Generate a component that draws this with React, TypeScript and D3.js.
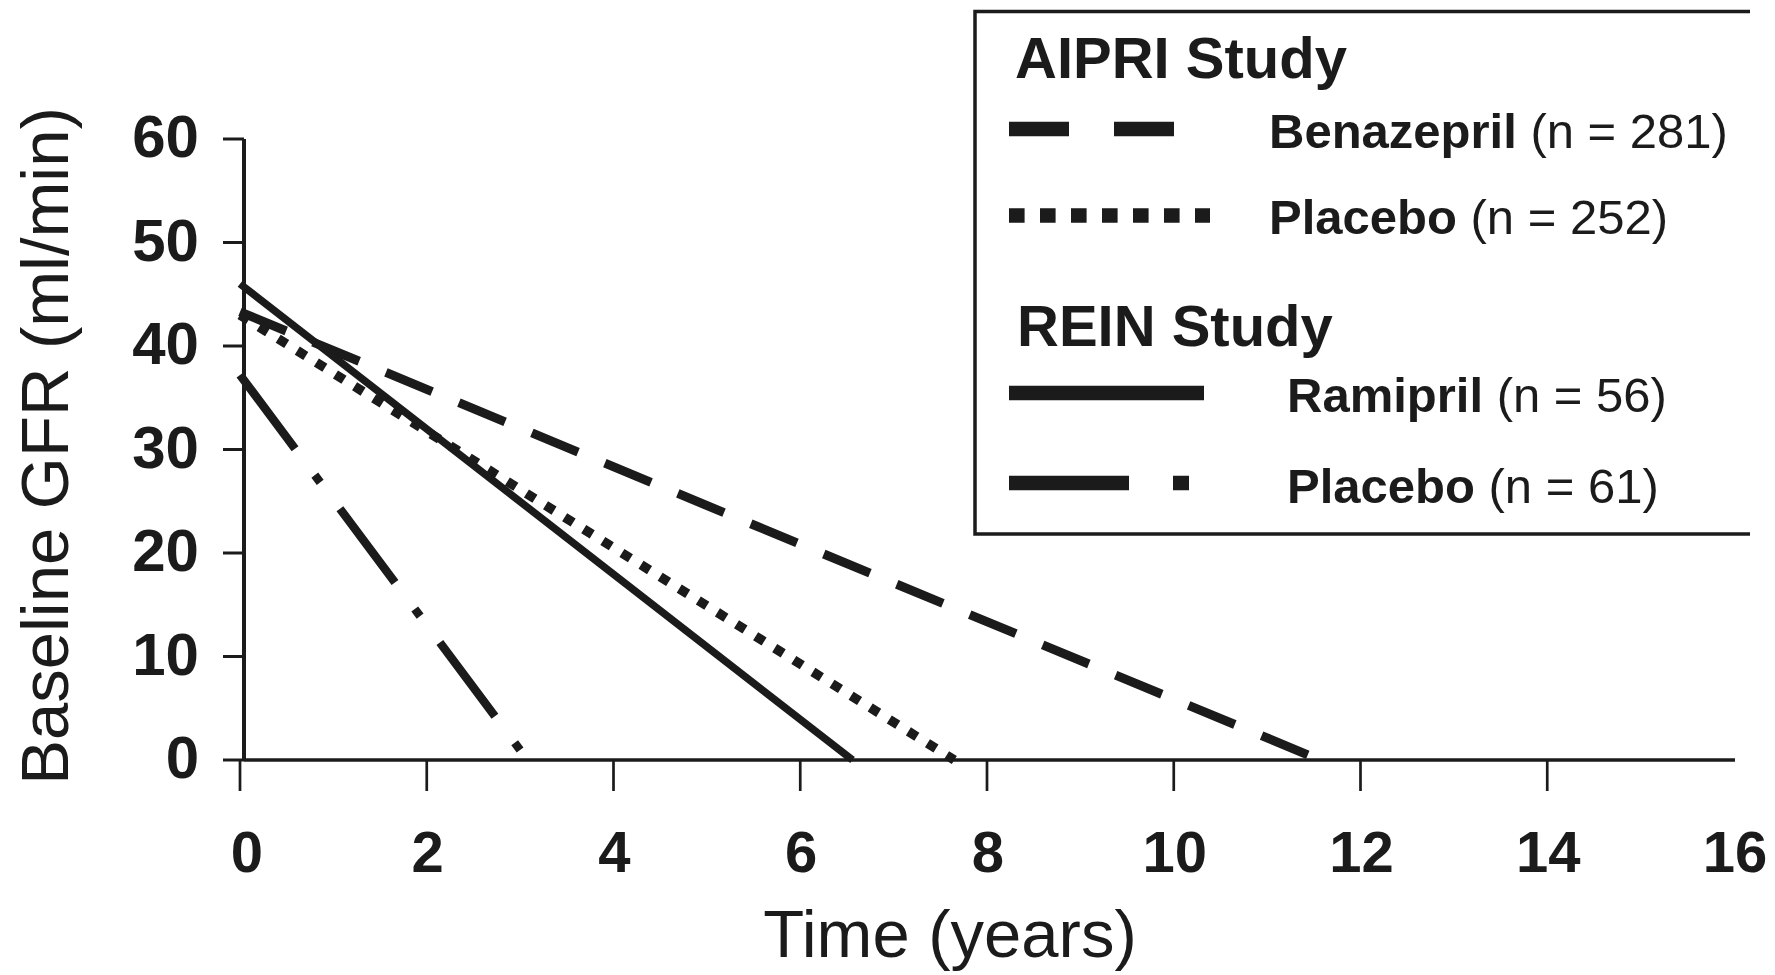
import React from "react";
import * as d3 from "d3";

// ---- data ----
const xTicks = [0, 2, 4, 6, 8, 10, 12, 14, 16];
const yTicks = [0, 10, 20, 30, 40, 50, 60];

// AIPRI study
const benazeprilX = [0, 11.57];
const benazeprilY = [43.3, 0];
const aipriPlaceboX = [0, 7.65];
const aipriPlaceboY = [43.0, 0];
// REIN study
const ramiprilX = [0, 6.56];
const ramiprilY = [46.0, 0];
const reinPlaceboX = [0, 3.08];
const reinPlaceboY = [37.2, 0];

const legendTitles = ["AIPRI Study", "REIN Study"];
const legendNames = ["Benazepril", "Placebo", "Ramipril", "Placebo"];
const legendCounts = [" (n = 281)", " (n = 252)", " (n = 56)", " (n = 61)"];

const INK = "#1b1b1b";
const FONT = "'Liberation Sans', Arial, Helvetica, sans-serif";

export default function App() {
  const W = 1775;
  const H = 975;
  const x = d3.scaleLinear().domain([0, 16]).range([240, 1734]);
  const y = d3.scaleLinear().domain([0, 60]).range([760, 139]);

  const line = d3
    .line<[number, number]>()
    .x((d) => x(d[0]))
    .y((d) => y(d[1]));

  const mk = (xs: number[], ys: number[]) =>
    line(xs.map((v, i) => [v, ys[i]] as [number, number])) || "";

  const series = [
    { d: mk(benazeprilX, benazeprilY), w: 9, dash: "50 29" },
    { d: mk(aipriPlaceboX, aipriPlaceboY), w: 9.5, dash: "10 12.5" },
    { d: mk(ramiprilX, ramiprilY), w: 7.5, dash: undefined },
    { d: mk(reinPlaceboX, reinPlaceboY), w: 8.5, dash: "92 33 9 33" },
  ];

  const legendRows = [
    { lineY: 129, textX: 1269, base: 148, len: 165, dash: "60 45" },
    { lineY: 215.5, textX: 1269, base: 234, len: 201, dash: "15.6 15.4" },
    { lineY: 393, textX: 1287, base: 412, len: 195, dash: undefined },
    { lineY: 483, textX: 1287, base: 503, len: 180, dash: "120 44 16 200" },
  ];
  const titleRows = [
    { x: 1015, base: 78 },
    { x: 1017, base: 346 },
  ];

  const x0 = x(0);
  const yAxisX = x0 + 4;

  return (
    <svg
      width={W}
      height={H}
      style={{ position: "absolute", left: 0, top: 0, background: "#fff" }}
      fontFamily={FONT}
    >
      <rect x={0} y={0} width={W} height={H} fill="#fff" />

      {/* series */}
      {series.map((s, i) => (
        <path
          key={i}
          d={s.d}
          fill="none"
          stroke={INK}
          strokeWidth={s.w}
          strokeDasharray={s.dash}
          strokeLinecap="butt"
        />
      ))}

      {/* y axis */}
      <line x1={yAxisX} x2={yAxisX} y1={y(60)} y2={y(0) + 1} stroke={INK} strokeWidth={4} />
      {yTicks.map((t) => (
        <g key={t}>
          <line x1={223} x2={yAxisX} y1={y(t)} y2={y(t)} stroke={INK} strokeWidth={3} />
          <text
            x={199}
            y={y(t) + 18}
            textAnchor="end"
            fontSize={60}
            fontWeight="bold"
            fill={INK}
          >
            {t}
          </text>
        </g>
      ))}

      {/* x axis */}
      <line x1={yAxisX} x2={x(16) + 1} y1={y(0)} y2={y(0)} stroke={INK} strokeWidth={3.5} />
      {xTicks.map((t) => (
        <g key={t}>
          {t < 16 && (
            <line x1={x(t)} x2={x(t)} y1={y(0)} y2={y(0) + 31} stroke={INK} strokeWidth={2.7} />
          )}
          <text
            x={x(t) + (t === 0 ? 7 : 1)}
            y={872}
            textAnchor="middle"
            fontSize={58}
            fontWeight="bold"
            fill={INK}
          >
            {t}
          </text>
        </g>
      ))}

      {/* axis titles */}
      <text x={950} y={957} textAnchor="middle" fontSize={67} fill={INK}>
        Time (years)
      </text>
      <text
        transform={`translate(68,446) rotate(-90)`}
        textAnchor="middle"
        fontSize={67}
        fill={INK}
      >
        Baseline GFR (ml/min)
      </text>

      {/* legend box (left, top, bottom edges) */}
      <path
        d="M1750,11.5 H975 V534 H1750"
        fill="none"
        stroke={INK}
        strokeWidth={3.5}
      />
      {titleRows.map((r, i) => (
        <text key={i} x={r.x} y={r.base} fontSize={58} fontWeight="bold" fill={INK}>
          {legendTitles[i]}
        </text>
      ))}
      {legendRows.map((r, i) => (
        <g key={i}>
          <line
            x1={1009}
            x2={1009 + r.len}
            y1={r.lineY}
            y2={r.lineY}
            stroke={INK}
            strokeWidth={14.5}
            strokeDasharray={r.dash}
          />
          <text x={r.textX} y={r.base} fontSize={49} fill={INK}>
            <tspan fontWeight="bold">{legendNames[i]}</tspan>
            <tspan>{legendCounts[i]}</tspan>
          </text>
        </g>
      ))}
    </svg>
  );
}
